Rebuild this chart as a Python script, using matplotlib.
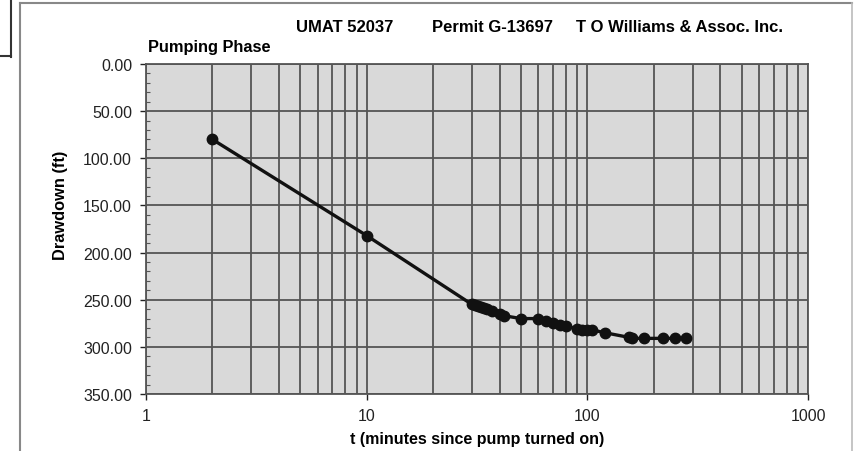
import numpy as np
import matplotlib.pyplot as plt
from matplotlib.ticker import LogLocator, MultipleLocator, FixedLocator, NullFormatter
from matplotlib.lines import Line2D

plt.rcParams['font.family'] = ['Liberation Sans', 'DejaVu Sans']

# minutes since pump turned on / drawdown (ft)
t = [2, 10, 30, 31, 32, 33, 34, 35, 37, 40, 42, 50, 60, 65, 70, 75, 80,
     90, 95, 100, 105, 120, 155, 160, 180, 220, 250, 280]
dd = [80, 182, 255, 256, 257, 258, 259, 260, 262, 265, 267, 270, 270, 273,
      275, 277, 278, 281, 282, 282, 282, 285, 290, 291, 291, 291, 291, 291]
yticks = [0, 50, 100, 150, 200, 250, 300, 350]
header = ["UMAT 52037", "Permit G-13697", "T O Williams & Assoc. Inc."]

fig = plt.figure(figsize=(8.59, 4.52), dpi=100)
W, H = 859, 452
ax = fig.add_axes([146 / W, 1 - 395 / H, 662 / W, 330 / H])
ax.set_facecolor('#d9d9d9')

grid_c = '#555555'
ax.set_xscale('log')
ax.set_xlim(1, 1000)
ax.set_ylim(350, 0)
ax.xaxis.set_major_locator(FixedLocator([1, 10, 100, 1000]))
ax.xaxis.set_minor_locator(LogLocator(base=10, subs=np.arange(2, 10)))
ax.xaxis.set_minor_formatter(NullFormatter())
ax.set_xticklabels(['1', '10', '100', '1000'])
ax.yaxis.set_major_locator(FixedLocator(yticks))
ax.yaxis.set_minor_locator(MultipleLocator(10))
ax.set_yticklabels(['%.2f' % v for v in yticks])

ax.grid(True, which='major', axis='both', color=grid_c, lw=1.3)
ax.grid(True, which='minor', axis='x', color=grid_c, lw=1.3)
ax.set_axisbelow(True)

ax.plot(t, dd, color='#111111', lw=2.4, marker='o', ms=7.5, zorder=3)

for s in ax.spines.values():
    s.set_color(grid_c)
    s.set_linewidth(1.3)

ax.tick_params(axis='both', which='major', labelsize=11.5, colors='#222222',
               length=4, width=1, direction='out', pad=6)
ax.tick_params(axis='y', which='minor', length=3, width=0.8, direction='in',
               color=grid_c)
ax.tick_params(axis='x', which='minor', length=0)

ax.set_xlabel('t (minutes since pump turned on)', fontsize=11.5,
              fontweight='bold', labelpad=6)
fig.text(61 / W, 1 - 205 / H, 'Drawdown (ft)', rotation=90, fontsize=11.8,
         fontweight='bold', ha='center', va='center')
for txt, x0 in zip(header, [296, 432, 576]):
    fig.text(x0 / W, 1 - 27 / H, txt, fontsize=12, fontweight='bold',
             ha='left', va='center')
fig.text(148 / W, 1 - 48 / H, 'Pumping Phase', fontsize=11.8,
         fontweight='bold', ha='left', va='center')

# outer chart frame and the neighbouring box at top left
fr = '#888888'
fig.add_artist(Line2D([20 / W, 20 / W], [0, 1 - 4 / H], color=fr, lw=1.5,
                      transform=fig.transFigure))
fig.add_artist(Line2D([20 / W, 852 / W], [1 - 4 / H, 1 - 4 / H], color=fr,
                      lw=1.5, transform=fig.transFigure))
fig.add_artist(Line2D([852 / W, 852 / W], [0, 1 - 4 / H], color='#bbbbbb',
                      lw=1.2, transform=fig.transFigure))
fig.add_artist(Line2D([11 / W, 11 / W], [1 - 58 / H, 1], color='#333333',
                      lw=1.5, transform=fig.transFigure))
fig.add_artist(Line2D([0, 11 / W], [1 - 57 / H, 1 - 57 / H], color='#333333',
                      lw=1.5, transform=fig.transFigure))

fig.savefig('out.png', dpi=100)
